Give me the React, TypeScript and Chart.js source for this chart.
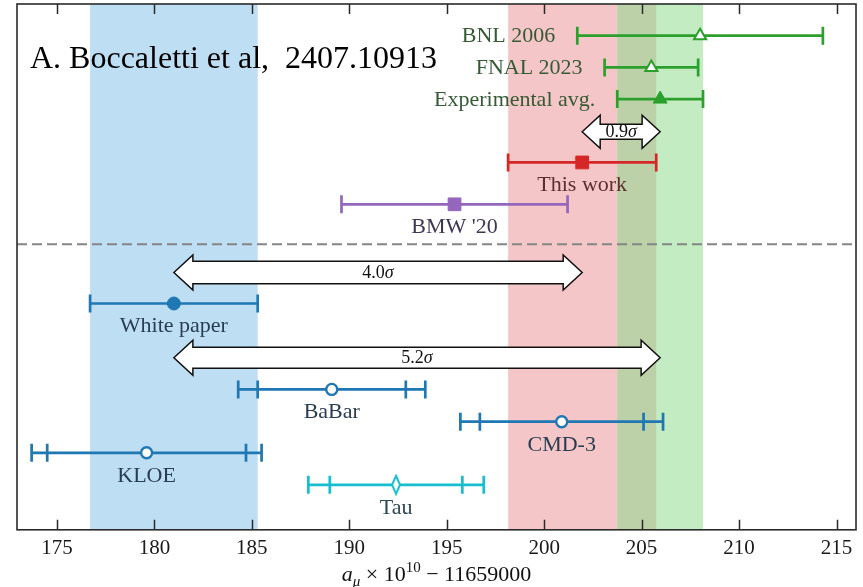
import React, { useEffect, useRef } from 'react';
import { Chart, registerables } from 'chart.js';

Chart.register(...registerables);

// a_mu x 10^10 - 11659000 for each determination
const names = ['BNL 2006', 'FNAL 2023', 'Experimental avg.', 'This work', "BMW '20", 'White paper', 'BaBar', 'CMD-3', 'KLOE', 'Tau'];
const centralValues = [208.0, 205.5, 205.95, 201.95, 195.4, 181.0, 189.1, 200.9, 179.6, 192.4];
const innerErrors = [6.3, 2.4, 2.2, 3.8, 5.8, 4.3, 3.8, 4.2, 5.1, 3.4];
const totalErrors: (number | null)[] = [null, null, null, null, null, null, 4.8, 5.2, 5.9, 4.5];
const rows = [1, 2, 3, 5, 6.32, 9.45, 12.16, 13.18, 14.16, 15.17];

// Shaded bands follow these entries: White paper, This work, Experimental avg.
const bandEntries = [5, 3, 2];

// Tension arrows between two entries
const arrowFrom = [3, 5, 5];
const arrowTo = [2, 3, 2];
const arrowRows = [4.03, 8.47, 11.16];
const arrowSigmas = ['0.9', '4.0', '5.2'];

const separatorRow = 7.58;
const rowMax = 16.59;
const xMin = 172.95;
const xMax = 216.0;
const tickStep = 5;

const SERIF = "'Liberation Serif', 'DejaVu Serif', serif";

const BLUE = '#1f77b4';
const GREEN = '#2ca02c';
const RED = '#d62728';
const PURPLE = '#9467bd';
const CYAN = '#17becf';

const seriesColors = [GREEN, GREEN, GREEN, RED, PURPLE, BLUE, BLUE, BLUE, BLUE, CYAN];
const textColors = ['#365a36', '#365a36', '#365a36', '#5c2f2f', '#3f3654', '#283d52', '#283d52', '#283d52', '#283d52', '#2c4b52'];
const labelSide = ['left', 'left', 'left', 'below', 'below', 'below', 'below', 'below', 'below', 'below'];
const bandColors = ['#bedef3', '#f4c6c7', '#c3ecc3'];
const overlapColor = '#bdd1a9';

const arrowShapes = [
  { body: 7.5, head: 16.5, len: 18 },
  { body: 11.2, head: 17.5, len: 19 },
  { body: 10.5, head: 17.5, len: 19 },
];

function makeDiamond(color: string) {
  const c = document.createElement('canvas');
  c.width = 14;
  c.height = 22;
  const g = c.getContext('2d')!;
  g.beginPath();
  g.moveTo(7, 2);
  g.lineTo(11, 11);
  g.lineTo(7, 20);
  g.lineTo(3, 11);
  g.closePath();
  g.fillStyle = '#ffffff';
  g.fill();
  g.lineWidth = 2;
  g.strokeStyle = color;
  g.lineJoin = 'miter';
  g.stroke();
  return c;
}

function drawDoubleArrow(ctx: CanvasRenderingContext2D, x1: number, x2: number, y: number, s: { body: number; head: number; len: number }) {
  ctx.beginPath();
  ctx.moveTo(x1, y);
  ctx.lineTo(x1 + s.len, y - s.head);
  ctx.lineTo(x1 + s.len, y - s.body);
  ctx.lineTo(x2 - s.len, y - s.body);
  ctx.lineTo(x2 - s.len, y - s.head);
  ctx.lineTo(x2, y);
  ctx.lineTo(x2 - s.len, y + s.head);
  ctx.lineTo(x2 - s.len, y + s.body);
  ctx.lineTo(x1 + s.len, y + s.body);
  ctx.lineTo(x1 + s.len, y + s.head);
  ctx.closePath();
  ctx.fillStyle = '#ffffff';
  ctx.fill();
  ctx.lineWidth = 1.5;
  ctx.strokeStyle = '#111111';
  ctx.lineJoin = 'miter';
  ctx.stroke();
}

const muonPlot = {
  id: 'muonPlot',
  beforeDatasetsDraw(chart: any) {
    const { ctx, chartArea: a, scales } = chart;
    const xs = scales.x;
    const ys = scales.y;
    ctx.save();
    // shaded bands
    const spans = bandEntries.map((i) => [centralValues[i] - innerErrors[i], centralValues[i] + innerErrors[i]]);
    spans.forEach(([lo, hi], k) => {
      const l = xs.getPixelForValue(lo);
      const r = xs.getPixelForValue(hi);
      ctx.fillStyle = bandColors[k];
      ctx.fillRect(l, a.top, r - l, a.bottom - a.top);
    });
    // overlap of the two right-hand bands
    const oLo = Math.max(spans[1][0], spans[2][0]);
    const oHi = Math.min(spans[1][1], spans[2][1]);
    if (oHi > oLo) {
      const l = xs.getPixelForValue(oLo);
      const r = xs.getPixelForValue(oHi);
      ctx.fillStyle = overlapColor;
      ctx.fillRect(l, a.top, r - l, a.bottom - a.top);
    }
    // separator between measurements and predictions
    const sy = ys.getPixelForValue(separatorRow);
    ctx.setLineDash([10, 5]);
    ctx.strokeStyle = '#858585';
    ctx.lineWidth = 2;
    ctx.beginPath();
    ctx.moveTo(a.left, sy);
    ctx.lineTo(a.right, sy);
    ctx.stroke();
    ctx.setLineDash([]);
    // error bars
    const capHalf = 9;
    names.forEach((_, i) => {
      const y = ys.getPixelForValue(rows[i]);
      const c = centralValues[i];
      const e1 = innerErrors[i];
      const e2 = totalErrors[i];
      const outer = e2 ?? e1;
      ctx.strokeStyle = seriesColors[i];
      ctx.lineWidth = 2.7;
      ctx.lineCap = 'butt';
      ctx.beginPath();
      ctx.moveTo(xs.getPixelForValue(c - outer), y);
      ctx.lineTo(xs.getPixelForValue(c + outer), y);
      const caps = e2 != null ? [c - e1, c + e1, c - e2, c + e2] : [c - e1, c + e1];
      caps.forEach((v) => {
        const px = xs.getPixelForValue(v);
        ctx.moveTo(px, y - capHalf);
        ctx.lineTo(px, y + capHalf);
      });
      ctx.stroke();
    });
    ctx.restore();
  },
  afterDatasetsDraw(chart: any) {
    const { ctx, chartArea: a, scales } = chart;
    const xs = scales.x;
    const ys = scales.y;
    ctx.save();
    // entry labels
    ctx.font = `22px ${SERIF}`;
    ctx.textBaseline = 'middle';
    names.forEach((name, i) => {
      const y = ys.getPixelForValue(rows[i]);
      ctx.fillStyle = textColors[i];
      if (labelSide[i] === 'left') {
        ctx.textAlign = 'right';
        ctx.fillText(name, xs.getPixelForValue(centralValues[i] - innerErrors[i]) - 22, y + 1);
      } else {
        ctx.textAlign = 'center';
        ctx.fillText(name, xs.getPixelForValue(centralValues[i]), y + 23);
      }
    });
    // tension arrows
    arrowFrom.forEach((f, k) => {
      const x1 = xs.getPixelForValue(centralValues[f]);
      const x2 = xs.getPixelForValue(centralValues[arrowTo[k]]);
      const y = ys.getPixelForValue(arrowRows[k]);
      const l = Math.min(x1, x2);
      const r = Math.max(x1, x2);
      drawDoubleArrow(ctx, l, r, y, arrowShapes[k]);
      const numFont = `18px ${SERIF}`;
      const sigFont = `italic 18px ${SERIF}`;
      ctx.font = numFont;
      const w1 = ctx.measureText(arrowSigmas[k]).width;
      ctx.font = sigFont;
      const w2 = ctx.measureText('σ').width;
      const start = (l + r) / 2 - (w1 + w2) / 2;
      ctx.fillStyle = '#111111';
      ctx.textAlign = 'left';
      ctx.textBaseline = 'middle';
      ctx.font = numFont;
      ctx.fillText(arrowSigmas[k], start, y + 1);
      ctx.font = sigFont;
      ctx.fillText('σ', start + w1, y + 1);
    });
    // reference note
    ctx.font = `32px ${SERIF}`;
    ctx.fillStyle = '#000000';
    ctx.textAlign = 'left';
    ctx.textBaseline = 'alphabetic';
    ctx.fillText('A. Boccaletti et al,  2407.10913', a.left + 13, a.top + 64);
    // frame and inward ticks
    ctx.strokeStyle = '#2a2a2a';
    ctx.lineWidth = 1.6;
    ctx.strokeRect(a.left, a.top, a.right - a.left, a.bottom - a.top);
    ctx.lineWidth = 1.5;
    ctx.beginPath();
    xs.ticks.forEach((t: any) => {
      const px = Math.round(xs.getPixelForValue(t.value)) + 0.5;
      ctx.moveTo(px, a.bottom);
      ctx.lineTo(px, a.bottom - 10);
      ctx.moveTo(px, a.top);
      ctx.lineTo(px, a.top + 10);
    });
    ctx.stroke();
    // axis title: a_mu x 10^10 - 11659000
    const big = 22;
    const small = 15;
    const parts = [
      { t: 'a', f: `italic ${big}px ${SERIF}`, dy: 0 },
      { t: 'μ', f: `italic ${small}px ${SERIF}`, dy: 5 },
      { t: ' × 10', f: `${big}px ${SERIF}`, dy: 0 },
      { t: '10', f: `${small}px ${SERIF}`, dy: -9 },
      { t: ' − 11659000', f: `${big}px ${SERIF}`, dy: 0 },
    ];
    let total = 0;
    const widths = parts.map((p) => {
      ctx.font = p.f;
      const w = ctx.measureText(p.t).width;
      total += w;
      return w;
    });
    let x = (a.left + a.right) / 2 - total / 2;
    const base = chart.height - 6;
    ctx.fillStyle = '#111111';
    parts.forEach((p, k) => {
      ctx.font = p.f;
      ctx.fillText(p.t, x, base + p.dy);
      x += widths[k];
    });
    ctx.restore();
  },
};

export default function App() {
  const canvasRef = useRef<HTMLCanvasElement | null>(null);

  useEffect(() => {
    const canvas = canvasRef.current;
    if (!canvas) return;
    const diamond = makeDiamond(CYAN);
    const markerFor = (i: number) => {
      const color = seriesColors[i];
      switch (names[i]) {
        case 'BNL 2006':
        case 'FNAL 2023':
          return { pointStyle: 'triangle', pointRadius: 7, pointBackgroundColor: '#ffffff', pointBorderColor: color, pointBorderWidth: 2 };
        case 'Experimental avg.':
          return { pointStyle: 'triangle', pointRadius: 8, pointBackgroundColor: color, pointBorderColor: color, pointBorderWidth: 1 };
        case 'This work':
        case "BMW '20":
          return { pointStyle: 'rect', pointRadius: 9, pointBackgroundColor: color, pointBorderColor: color, pointBorderWidth: 1 };
        case 'White paper':
          return { pointStyle: 'circle', pointRadius: 6.5, pointBackgroundColor: color, pointBorderColor: color, pointBorderWidth: 1 };
        case 'Tau':
          return { pointStyle: diamond, pointRadius: 8, pointBackgroundColor: '#ffffff', pointBorderColor: color, pointBorderWidth: 2 };
        default:
          return { pointStyle: 'circle', pointRadius: 5.5, pointBackgroundColor: '#ffffff', pointBorderColor: color, pointBorderWidth: 2.4 };
      }
    };
    const datasets = names.map((name, i) => ({
      label: name,
      data: [{ x: centralValues[i], y: rows[i] }],
      ...markerFor(i),
      pointHoverRadius: 0,
    }));

    const chart = new Chart(canvas, {
      type: 'scatter',
      data: { datasets: datasets as any },
      options: {
        animation: false,
        responsive: false,
        devicePixelRatio: 1,
        events: [],
        layout: { autoPadding: false, padding: { left: 17, right: 7, top: 4, bottom: 19 } },
        plugins: {
          legend: { display: false },
          tooltip: { enabled: false },
        },
        scales: {
          x: {
            type: 'linear',
            min: xMin,
            max: xMax,
            grid: { display: false, drawTicks: false },
            border: { display: false },
            ticks: {
              stepSize: tickStep,
              includeBounds: false,
              autoSkip: false,
              maxRotation: 0,
              padding: 6.5,
              color: '#1a1a1a',
              font: { family: SERIF, size: 21 },
            },
          },
          y: {
            type: 'linear',
            min: 0,
            max: rowMax,
            reverse: true,
            display: false,
          },
        },
      },
      plugins: [muonPlot],
    });
    return () => chart.destroy();
  }, []);

  return (
    <div style={{ position: 'fixed', left: 0, top: 0, width: 863, height: 587, background: '#ffffff' }}>
      <canvas ref={canvasRef} width={863} height={587} style={{ display: 'block' }} />
    </div>
  );
}
